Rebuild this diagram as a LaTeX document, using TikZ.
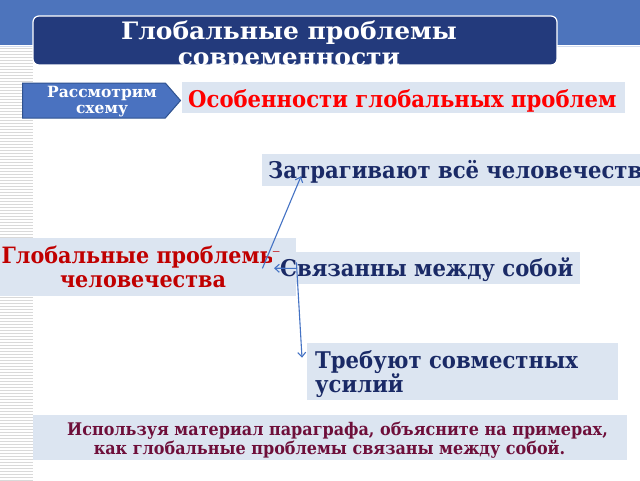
\documentclass[tikz,border=0pt]{standalone}
\usepackage{fontspec}
\setmainfont{DejaVu Serif}
\newfontfamily\narrowserif{DejaVu Serif}[FakeStretch=0.92]
\newfontfamily\titleserif{DejaVu Serif}[FakeStretch=1.04]
\usetikzlibrary{shapes.symbols,arrows.meta,calc}
\definecolor{band}{HTML}{4D74BC}
\definecolor{titlebg}{HTML}{233A7C}
\definecolor{tagfill}{HTML}{4A72C0}
\definecolor{tagline}{HTML}{2F528F}
\definecolor{boxbg}{HTML}{DCE5F1}
\definecolor{navy}{HTML}{1A2A66}
\definecolor{darkred}{HTML}{C00000}
\definecolor{maroon}{HTML}{6E0F3A}
\definecolor{arr}{HTML}{4472C4}
\tikzset{
  box/.style={fill=boxbg, draw=none, anchor=north west, inner sep=0pt},
  txt/.style={inner sep=0pt},
  big/.style={txt, font=\narrowserif\bfseries\fontsize{23}{26}\selectfont},
  conn/.style={draw=arr, line width=1.1pt, -{Straight Barb[length=4.5pt,width=8pt]}},
}
\begin{document}
\begin{tikzpicture}[x=1pt,y=-1pt]
\useasboundingbox (0,0) rectangle (640,480);
\fill[white] (0,0) rectangle (640,480);
\fill[band] (0,0) rectangle (640,45);
\draw[white!75!band, line width=1pt] (0,46) -- (640,46);
\foreach \y in {48,51,...,480} \draw[gray!30, line width=0.7pt] (0,\y) -- (33,\y);
% title
\begin{scope}
\path[clip, rounded corners=6pt] (33,16) rectangle (557,65);
\fill[titlebg] (33,16) rectangle (557,65);
\node[txt, text=white, font=\titleserif\bfseries\fontsize{24}{27}\selectfont, anchor=base] (t1) at (289,39) {Глобальные проблемы};
\node[txt, text=white, font=\titleserif\bfseries\fontsize{24}{27}\selectfont, anchor=base] (t2) at (289,65) {современности};
\end{scope}
\draw[white, line width=1.2pt, rounded corners=6pt] (33,16) rectangle (557,65);
% tag
\node[signal, signal to=east, signal pointer angle=98, fill=tagfill, draw=tagline, line width=1pt,
  minimum width=158pt, minimum height=35pt, inner sep=0pt, anchor=west] (tag) at (22,100.5) {};
\node[txt, text=white, font=\bfseries\fontsize{15.5}{17}\selectfont, anchor=base] (tg1) at (102,97) {Рассмотрим};
\node[txt, text=white, font=\bfseries\fontsize{15.5}{17}\selectfont, anchor=base] (tg2) at (102,113) {схему};
% heading
\node[box, minimum width=443pt, minimum height=31pt] (hd) at (182,82) {};
\node[big, text=red, anchor=base west] (hdt) at (188,107) {Особенности глобальных проблем};
% Затрагивают
\node[box, minimum width=378pt, minimum height=32pt] (z) at (262,154) {};
\node[big, text=navy, anchor=base west] (zt) at (268,178) {Затрагивают всё человечество};
% main
\node[box, minimum width=296pt, minimum height=58pt] (g) at (0,238) {};
\node[big, text=darkred, font=\narrowserif\bfseries\fontsize{22.5}{26}\selectfont, anchor=base] (gt1) at (141,263) {Глобальные проблемы};
\node[big, text=darkred, font=\narrowserif\bfseries\fontsize{22.5}{26}\selectfont, anchor=base] (gt2) at (143,287) {человечества};
% Связанны
\node[box, minimum width=308pt, minimum height=32pt] (s) at (272,252) {};
\node[big, text=navy, anchor=base west] (st) at (280,276) {Связанны между собой};
% Требуют
\node[box, minimum width=311pt, minimum height=57pt] (r) at (307,343) {};
\node[big, text=navy, anchor=base west] (rt1) at (315,368) {Требуют совместных};
\node[big, text=navy, anchor=base west] (rt2) at (315,392) {усилий};
% bottom
\node[box, minimum width=594pt, minimum height=45pt] (b) at (33,415) {};
\node[txt, text=maroon, font=\narrowserif\bfseries\fontsize{17.4}{20}\selectfont, anchor=base] (bt1) at (337.5,435) {Используя материал параграфа, объясните на примерах,};
\node[txt, text=maroon, font=\narrowserif\bfseries\fontsize{17.4}{20}\selectfont, anchor=base] (bt2) at (329.5,454) {как глобальные проблемы связаны между собой.};
% connectors
\coordinate (o1) at ($(g.south east)+(-34,-28)$);
\coordinate (o2) at ($(g.south east)+(0,-28)$);
\coordinate (o3) at ($(g.south east)+(0,-34)$);
\draw[conn] (o1) -- ($(z.south west)+(39,-10)$) coordinate (e1);
\draw[conn] (o2) -- ($(s.west)+(2,0)$) coordinate (e2);
\draw[conn] (o3) -- ($(r.west)+(-5,-14)$) coordinate (e3);
\end{tikzpicture}
\end{document}
